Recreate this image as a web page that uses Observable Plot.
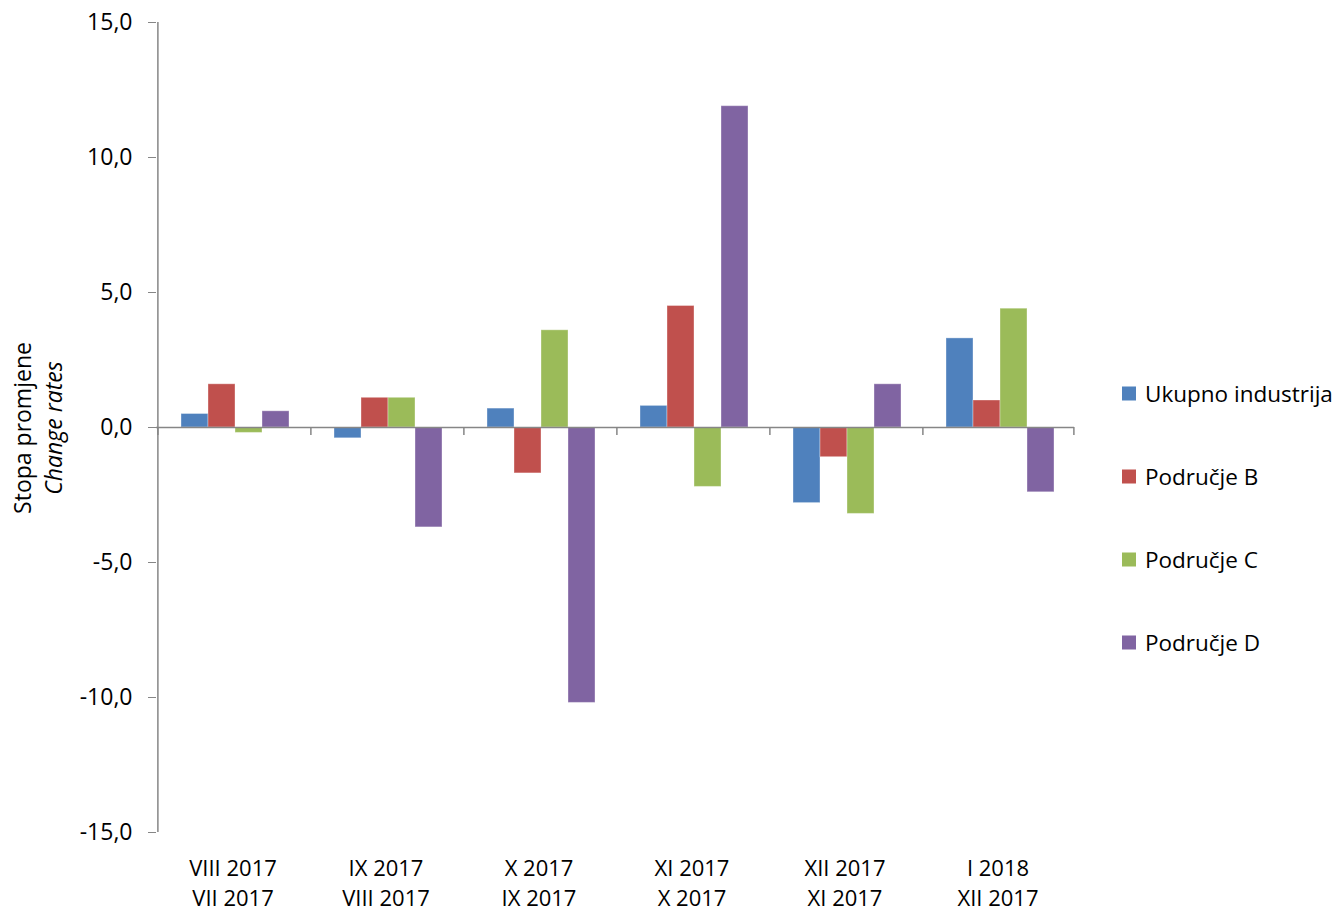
<!DOCTYPE html>
<html><head><meta charset="utf-8">
<script src="https://cdn.jsdelivr.net/npm/d3@7"></script>
<script src="https://cdn.jsdelivr.net/npm/@observablehq/plot@0.6"></script>
<style>
body{margin:0;background:#fff;font-family:"Open Sans",sans-serif;color:#000;}
#wrap{position:relative;width:1339px;height:911px;overflow:hidden;}
#chart{position:absolute;left:0;top:0;}
.ylab{position:absolute;white-space:nowrap;font-size:23px;transform:translate(-50%,-50%) rotate(-90deg);}
#legend{position:absolute;left:1122px;top:0;}
.item{position:absolute;left:0;white-space:nowrap;font-size:22.5px;display:flex;align-items:center;transform:translateY(-50%);}
.sw{width:14px;height:14px;margin-right:9px;}
</style></head><body>
<div id="wrap">
<div id="chart"></div>
<div class="ylab" style="left:22px;top:428px;">Stopa promjene</div>
<div class="ylab" style="left:53px;top:428px;font-style:italic;">Change rates</div>
<div id="legend"></div>
</div>
<script>
const periods = ["VIII 2017\nVII 2017", "IX 2017\nVIII 2017", "X 2017\nIX 2017", "XI 2017\nX 2017", "XII 2017\nXI 2017", "I 2018\nXII 2017"];
const series = ["Ukupno industrija", "Područje B", "Područje C", "Područje D"];
const ukupno = [0.5, -0.4, 0.7, 0.8, -2.8, 3.3];
const podB = [1.6, 1.1, -1.7, 4.5, -1.1, 1.0];
const podC = [-0.2, 1.1, 3.6, -2.2, -3.2, 4.4];
const podD = [0.6, -3.7, -10.2, 11.9, 1.6, -2.4];
const colors = ["#4F81BD", "#C0504D", "#9BBB59", "#8064A2"];
const yTicks = [-15, -10, -5, 0, 5, 10, 15];

const valuesBySeries = [ukupno, podB, podC, podD];
const rows = periods.flatMap((p, i) => series.map((s, j) => ({period: p, series: s, value: valuesBySeries[j][i]})));

const W = 1100, H = 911, mL = 155, mR = 25, mT = 22, mB = 79;
const po = 0.76, align = 0.55;
const facetW = (W - mL - mR) / periods.length;
const step = facetW / (series.length + 2 * po);
const leftOff = 2 * po * step * align + step / 2;
const rightOff = 2 * po * step * (1 - align) + step / 2;
const axisColor = "#868686";

const chart = Plot.plot({
  width: W, height: H,
  marginLeft: mL, marginRight: mR, marginTop: mT, marginBottom: mB,
  style: {fontFamily: "'Open Sans', sans-serif", fontSize: "23px", color: "#000", background: "#fff", overflow: "visible"},
  fx: {domain: periods, padding: 0, axis: null},
  x: {domain: series, paddingInner: 0, paddingOuter: po, align, axis: null},
  y: {domain: [-15, 15], axis: null},
  color: {domain: series, range: colors},
  marks: [
    Plot.barY(rows, {fx: "period", x: "series", y: "value", fill: "series", stroke: "#fff", strokeOpacity: 0.35, strokeWidth: 1}),
    Plot.ruleY([0], {stroke: axisColor, strokeWidth: 1.5}),
    Plot.ruleX(periods, {fx: d => d, x: () => series[0], y1: 0, y2: -0.3, dx: -leftOff, stroke: axisColor, strokeWidth: 1.5}),
    Plot.ruleX([periods[periods.length - 1]], {fx: d => d, x: () => series[series.length - 1], y1: 0, y2: -0.3, dx: rightOff, stroke: axisColor, strokeWidth: 1.5}),
    Plot.ruleX([periods[0]], {fx: d => d, x: () => series[0], y1: -15, y2: 15, dx: -leftOff, stroke: axisColor, strokeWidth: 1.5}),
    Plot.axisY({ticks: yTicks, tickSize: 8, tickPadding: 16, tickFormat: d => d.toFixed(1).replace(".", ","), stroke: axisColor, fill: "#000", label: null, fontSize: 23}),
    Plot.text(periods, {fx: d => d, frameAnchor: "bottom", text: d => d, lineAnchor: "middle", dy: 49, lineHeight: 1.36, fontSize: 22})
  ]
});
document.getElementById("chart").appendChild(chart);

const legend = document.getElementById("legend");
series.forEach((s, i) => {
  const div = document.createElement("div");
  div.className = "item";
  div.style.top = (393 + i * 83) + "px";
  div.innerHTML = `<span class="sw" style="background:${colors[i]}"></span><span>${s}</span>`;
  legend.appendChild(div);
});
</script>
</body></html>
